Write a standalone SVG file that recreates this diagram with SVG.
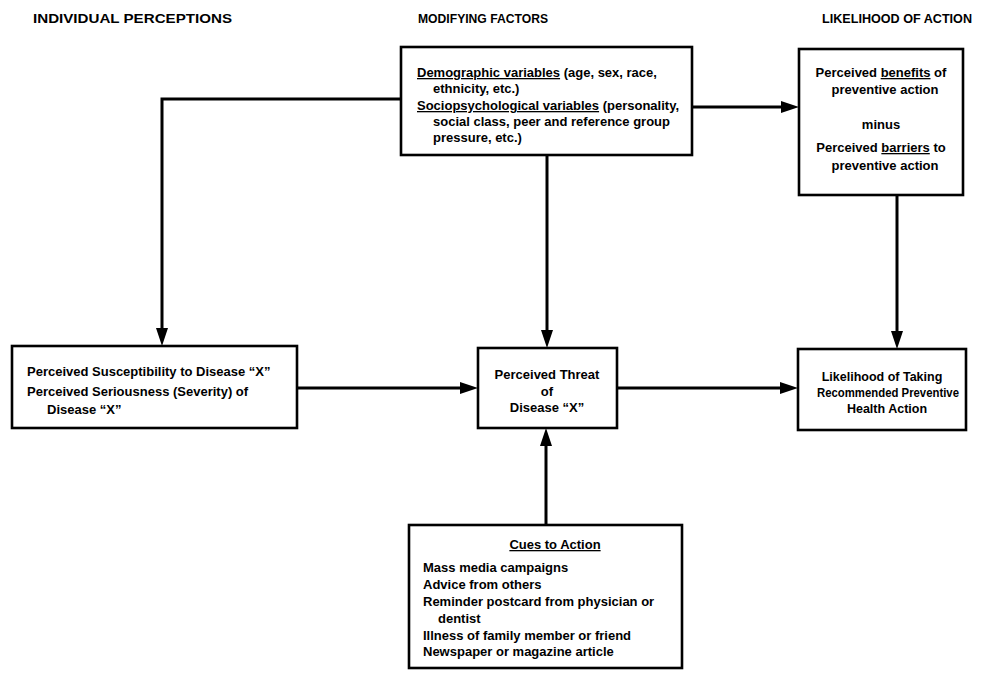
<svg xmlns="http://www.w3.org/2000/svg" width="988" height="673" viewBox="0 0 988 673">
<style>
text{font-family:"Liberation Sans",Arial,sans-serif;font-size:13px;font-weight:bold;fill:#000}
.hdr{font-size:13px}
.sm{font-size:12.5px}
.c{text-anchor:middle}
.box{fill:#fff;stroke:#000;stroke-width:2.6}
.conn{fill:none;stroke:#000;stroke-width:3}
.u{text-decoration:underline}
</style>
<defs>
<marker id="ah" viewBox="0 0 18 12" refX="12" refY="6" markerWidth="18" markerHeight="12" markerUnits="userSpaceOnUse" orient="auto">
<path d="M0,0 L18,6 L0,12 z" fill="#000"/>
</marker>
</defs>
<rect width="988" height="673" fill="#fff"/>
<g id="headers">
<text class="hdr" x="33" y="23" textLength="199" lengthAdjust="spacingAndGlyphs">INDIVIDUAL PERCEPTIONS</text>
<text class="hdr" x="418" y="23" textLength="130" lengthAdjust="spacingAndGlyphs">MODIFYING FACTORS</text>
<text class="hdr" x="822" y="23" textLength="150" lengthAdjust="spacingAndGlyphs">LIKELIHOOD OF ACTION</text>
</g>
<g id="connectors">
<path class="conn" d="M401,99 H162 V340" marker-end="url(#ah)"/>
<path class="conn" d="M690,107 H793" marker-end="url(#ah)"/>
<path class="conn" d="M547,155 V342" marker-end="url(#ah)"/>
<path class="conn" d="M897,195 V343" marker-end="url(#ah)"/>
<path class="conn" d="M297,388 H472" marker-end="url(#ah)"/>
<path class="conn" d="M617,388 H792" marker-end="url(#ah)"/>
<path class="conn" d="M546,525 V434" marker-end="url(#ah)"/>
</g>
<g id="modifying">
<rect class="box" x="401" y="47" width="291" height="108"/>
<text x="417" y="77"><tspan class="u">Demographic variables</tspan> (age, sex, race,</text>
<text x="433" y="93">ethnicity, etc.)</text>
<text x="417" y="110"><tspan class="u">Sociopsychological variables</tspan> (personality,</text>
<text x="433" y="126">social class, peer and reference group</text>
<text x="433" y="142">pressure, etc.)</text>
</g>
<g id="benefits">
<rect class="box" x="799" y="49" width="164" height="146"/>
<text class="c" x="881" y="77">Perceived <tspan class="u">benefits</tspan> of</text>
<text class="c" x="885" y="94">preventive action</text>
<text class="c" x="881" y="129">minus</text>
<text class="c" x="881" y="152">Perceived <tspan class="u">barriers</tspan> to</text>
<text class="c" x="885" y="170">preventive action</text>
</g>
<g id="perceptions">
<rect class="box" x="12" y="346" width="285" height="82"/>
<text x="27" y="376">Perceived Susceptibility to Disease “X”</text>
<text x="27" y="396">Perceived Seriousness (Severity) of</text>
<text x="47" y="414">Disease “X”</text>
</g>
<g id="threat">
<rect class="box" x="478" y="348" width="139" height="80"/>
<text class="c" x="547" y="379">Perceived Threat</text>
<text class="c" x="547" y="396">of</text>
<text class="c" x="547" y="412">Disease “X”</text>
</g>
<g id="likelihood">
<rect class="box" x="798" y="349" width="168" height="81"/>
<text class="c sm" x="882" y="381">Likelihood of Taking</text>
<text class="c sm" x="888" y="397" textLength="142" lengthAdjust="spacingAndGlyphs">Recommended Preventive</text>
<text class="c sm" x="887" y="413">Health Action</text>
</g>
<g id="cues">
<rect class="box" x="409" y="525" width="273" height="143"/>
<text class="c u" x="555" y="549">Cues to Action</text>
<text x="423" y="572">Mass media campaigns</text>
<text x="423" y="589">Advice from others</text>
<text x="423" y="606">Reminder postcard from physician or</text>
<text x="438" y="623">dentist</text>
<text x="423" y="640">Illness of family member or friend</text>
<text x="423" y="656">Newspaper or magazine article</text>
</g>
</svg>
